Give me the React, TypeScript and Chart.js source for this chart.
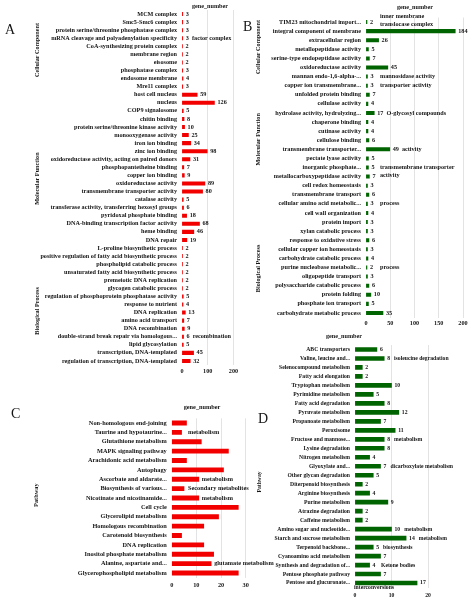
import React, { useEffect, useRef } from "react";
import { Chart, registerables } from "chart.js";

Chart.register(...registerables);

const SERIF = '"Liberation Serif", "Times New Roman", serif';
const INK = "#141414";
const RED = "#f20000";
const GREEN = "#006400";

// ---- panel A (GO, red) ----
const aLabels = [
  "MCM complex", "Smc5-Smc6 complex", "protein serine/threonine phosphatase complex",
  "mRNA cleavage and polyadenylation specificity", "CoA-synthesizing protein complex",
  "membrane region", "eisosome", "phosphatase complex", "endosome membrane", "Mre11 complex",
  "host cell nucleus", "nucleus", "COP9 signalosome", "chitin binding",
  "protein serine/threonine kinase activity", "monooxygenase activity", "iron ion binding",
  "zinc ion binding", "oxidoreductase activity, acting on paired donors",
  "phosphopantetheine binding", "copper ion binding", "oxidoreductase activity",
  "transmembrane transporter activity", "catalase activity",
  "transferase activity, transferring hexosyl groups", "pyridoxal phosphate binding",
  "DNA-binding transcription factor activity", "heme binding", "DNA repair",
  "L-proline biosynthetic process", "positive regulation of fatty acid biosynthetic process",
  "phospholipid catabolic process", "unsaturated fatty acid biosynthetic process",
  "premeiotic DNA replication", "glycogen catabolic process",
  "regulation of phosphoprotein phosphatase activity", "response to nutrient",
  "DNA replication", "amino acid transport", "DNA recombination",
  "double-strand break repair via homologous...", "lipid glycosylation",
  "transcription, DNA-templated", "regulation of transcription, DNA-templated",
];
const aValues = [
  3, 3, 3, 3, 2, 2, 2, 3, 4, 3, 59, 126,
  5, 8, 10, 25, 34, 98, 31, 7, 9, 89, 80, 5, 6, 18, 68, 46, 19,
  2, 2, 2, 2, 2, 2, 5, 4, 13, 7, 9, 6, 5, 45, 32,
];
const aTails: Tail[] = [
  { row: "mRNA cleavage and polyadenylation specificity", lines: ["factor complex"] },
  { row: "double-strand break repair via homologous...", lines: ["recombination"] },
];

// ---- panel B (GO, green) ----
const bLabels = [
  "TIM23 mitochondrial import...", "integral component of membrane", "extracellular region",
  "metallopeptidase activity", "serine-type endopeptidase activity", "oxidoreductase activity",
  "mannan endo-1,6-alpha-...", "copper ion transmembrane...", "unfolded protein binding",
  "cellulase activity", "hydrolase activity, hydrolyzing...", "chaperone binding",
  "cutinase activity", "cellulose binding", "transmembrane transporter...",
  "pectate lyase activity", "inorganic phosphate...", "metallocarboxypeptidase activity",
  "cell redox homeostasis", "transmembrane transport", "cellular amino acid metabolic...",
  "cell wall organization", "protein import", "xylan catabolic process",
  "response to oxidative stress", "cellular copper ion homeostasis",
  "carbohydrate catabolic process", "purine nucleobase metabolic...", "oligopeptide transport",
  "polysaccharide catabolic process", "protein folding", "phosphate ion transport",
  "carbohydrate metabolic process",
];
const bValues = [
  2, 184, 26, 5, 7, 45, 3, 3, 7, 4, 17, 4, 4, 6, 49, 5, 5, 7,
  3, 6, 3, 4, 3, 3, 6, 3, 4, 2, 3, 6, 10, 5, 35,
];
const bTails: Tail[] = [
  { row: "TIM23 mitochondrial import...", lines: ["inner membrane", "translocase complex"], shift: -0.75 },
  { row: "mannan endo-1,6-alpha-...", lines: ["mannosidase activity"] },
  { row: "copper ion transmembrane...", lines: ["transporter activity"] },
  { row: "hydrolase activity, hydrolyzing...", lines: ["O-glycosyl compounds"] },
  { row: "transmembrane transporter...", lines: ["activity"] },
  { row: "inorganic phosphate...", lines: ["transmembrane transporter", "activity"] },
  { row: "cellular amino acid metabolic...", lines: ["process"] },
  { row: "purine nucleobase metabolic...", lines: ["process"] },
];

// ---- panel C (KEGG, red) ----
const cLabels = [
  "Non-homologous end-joining", "Taurine and hypotaurine...", "Glutathione metabolism",
  "MAPK signaling pathway", "Arachidonic acid metabolism", "Autophagy",
  "Ascorbate and aldarate...", "Biosynthesis of various...", "Nicotinate and nicotinamide...",
  "Cell cycle", "Glycerolipid metabolism", "Homologous recombination",
  "Carotenoid biosynthesis", "DNA replication", "Inositol phosphate metabolism",
  "Alanine, aspartate and...", "Glycerophospholipid metabolism",
];
const cValues = [6, 4, 12, 23, 6, 21, 11, 5, 11, 27, 19, 13, 4, 13, 17, 16, 27];
const cTails: Tail[] = [
  { row: "Taurine and hypotaurine...", lines: ["metabolism"] },
  { row: "Ascorbate and aldarate...", lines: ["metabolism"] },
  { row: "Biosynthesis of various...", lines: ["Secondary metabolites"] },
  { row: "Nicotinate and nicotinamide...", lines: ["metabolism"] },
  { row: "Alanine, aspartate and...", lines: ["glutamate metabolism"] },
];

// ---- panel D (KEGG, green) ----
const dLabels = [
  "ABC transporters", "Valine, leucine and...", "Selenocompound metabolism",
  "Fatty acid elongation", "Tryptophan metabolism", "Pyrimidine metabolism",
  "Fatty acid degradation", "Pyruvate metabolism", "Propanoate metabolism", "Peroxisome",
  "Fructose and mannose...", "Lysine degradation", "Nitrogen metabolism", "Glyoxylate and...",
  "Other glycan degradation", "Diterpenoid biosynthesis", "Arginine biosynthesis",
  "Purine metabolism", "Atrazine degradation", "Caffeine metabolism",
  "Amino sugar and nucleotide...", "Starch and sucrose metabolism", "Terpenoid backbone...",
  "Cyanoamino acid metabolism", "Synthesis and degradation of...",
  "Pentose phosphate pathway", "Pentose and glucuronate...",
];
const dValues = [6, 8, 2, 2, 10, 5, 8, 12, 7, 11, 8, 8, 4, 7, 5, 2, 4, 9, 2, 2, 10, 14, 5, 7, 4, 7, 17];
const dTails: Tail[] = [
  { row: "Valine, leucine and...", lines: ["isoleucine degradation"] },
  { row: "Fructose and mannose...", lines: ["metabolism"] },
  { row: "Glyoxylate and...", lines: ["dicarboxylate metabolism"] },
  { row: "Amino sugar and nucleotide...", lines: ["metabolism"] },
  { row: "Starch and sucrose metabolism", lines: ["metabolism"] },
  { row: "Terpenoid backbone...", lines: ["biosynthesis"] },
  { row: "Synthesis and degradation of...", lines: ["Ketone bodies"] },
  { row: "Pentose and glucuronate...", lines: ["interconversions"], below: true },
];

type Tail = { row: string; lines: string[]; shift?: number; below?: boolean };

type Panel = {
  labels: string[];
  values: number[];
  tails: Tail[];
  color: string;
  max: number;
  step: number;
  area: { left: number; right: number; top: number; bottom: number };
  padLeft: number;
  bar: number;
  font: number;
  tickPad: number;
  showValues: boolean;
  tailMinX: number;
  tailGap: number;
  letter: { text: string; x: number; y: number };
  titles: { x: number; y: number }[];
  groups: { text: string; row: number; x: number }[];
};

const W = 474;
const H = 602;
const AXIS_H = 12;

const panels: Panel[] = [
  {
    labels: aLabels, values: aValues, tails: aTails, color: RED, max: 200, step: 100,
    area: { left: 182, right: 233.5, top: 10, bottom: 365 }, padLeft: 0,
    bar: 3.4, font: 6.2, tickPad: 3, showValues: true, tailMinX: 192, tailGap: 3,
    letter: { text: "A", x: 5, y: 30 },
    titles: [{ x: 210, y: 6 }],
    groups: [
      { text: "Cellular Component", row: 4.46, x: 37 },
      { text: "Molecular Function", row: 20.4, x: 37 },
      { text: "Biological Process", row: 36.8, x: 37 },
    ],
  },
  {
    labels: bLabels, values: bValues, tails: bTails, color: GREEN, max: 200, step: 50,
    area: { left: 366, right: 463, top: 17.5, bottom: 317.5 }, padLeft: 237,
    bar: 3.4, font: 6.2, tickPad: 2.5, showValues: true, tailMinX: 380, tailGap: 3,
    letter: { text: "B", x: 243, y: 27 },
    titles: [{ x: 415, y: 7 }, { x: 344, y: 336 }],
    groups: [
      { text: "Cellular Component", row: 2.75, x: 258 },
      { text: "Molecular Function", row: 12.9, x: 258 },
      { text: "Biological Process", row: 27.1, x: 258 },
    ],
  },
  {
    labels: cLabels, values: cValues, tails: cTails, color: RED, max: 30, step: 10,
    area: { left: 171.7, right: 245.7, top: 418.3, bottom: 577.7 }, padLeft: 0,
    bar: 4.3, font: 6.3, tickPad: 4.3, showValues: false, tailMinX: 188, tailGap: 3,
    letter: { text: "C", x: 11, y: 414 },
    titles: [{ x: 202, y: 407 }],
    groups: [{ text: "Pathway", row: 7.7, x: 36 }],
  },
  {
    labels: dLabels, values: dValues, tails: dTails, color: GREEN, max: 20, step: 10,
    area: { left: 355, right: 428, top: 345, bottom: 587.5 }, padLeft: 237,
    bar: 4, font: 5.7, tickPad: 5, showValues: true, tailMinX: 381, tailGap: 4,
    letter: { text: "D", x: 258, y: 419 },
    titles: [],
    groups: [{ text: "Pathway", row: 14.75, x: 260 }],
  },
];

// value labels, label tails, titles, group names and panel letters
function decor(p: Panel) {
  return {
    id: "decor",
    afterDatasetsDraw(chart: any) {
      const ctx: CanvasRenderingContext2D = chart.ctx;
      const meta = chart.getDatasetMeta(0);
      const yScale = chart.scales.y;
      const lineH = 8;
      ctx.save();
      ctx.fillStyle = INK;
      ctx.font = `bold ${p.font}px ${SERIF}`;
      ctx.textBaseline = "middle";
      ctx.textAlign = "left";

      const ends: number[] = [];
      meta.data.forEach((bar: any, i: number) => {
        let end = bar.x + p.tailGap;
        if (p.showValues) {
          const txt = String(p.values[i]);
          ctx.fillText(txt, bar.x + 3, bar.y);
          end = bar.x + 3 + ctx.measureText(txt).width + p.tailGap;
        }
        ends[i] = end;
      });

      p.tails.forEach((t) => {
        const i = p.labels.indexOf(t.row);
        const bar = meta.data[i];
        if (!bar) return;
        if (t.below) {
          t.lines.forEach((s, k) => ctx.fillText(s, chart.chartArea.left - 1, bar.y + 4.5 + k * lineH));
        } else {
          const x = Math.max(p.tailMinX, ends[i]);
          t.lines.forEach((s, k) => ctx.fillText(s, x, bar.y + (k + (t.shift || 0)) * lineH));
        }
      });

      ctx.textAlign = "center";
      p.titles.forEach((t) => ctx.fillText("gene_number", t.x, t.y));

      p.groups.forEach((g) => {
        const y = yScale.getPixelForValue(g.row);
        ctx.save();
        ctx.translate(g.x, y);
        ctx.rotate(-Math.PI / 2);
        ctx.fillText(g.text, 0, 0);
        ctx.restore();
      });

      ctx.font = `14px ${SERIF}`;
      ctx.textAlign = "left";
      ctx.fillText(p.letter.text, p.letter.x, p.letter.y);
      ctx.restore();
    },
  };
}

const BarPanel: React.FC<{ spec: Panel }> = ({ spec }) => {
  const chartRef = useRef<HTMLCanvasElement>(null);
  const chartInstance = useRef<Chart>();

  useEffect(() => {
    if (!chartRef.current) return;
    const ctx = chartRef.current.getContext("2d");
    if (!ctx) return;
    if (chartInstance.current) chartInstance.current.destroy();

    const a = spec.area;
    const tickFont = { family: SERIF, size: spec.font, weight: "bold" as const };
    chartInstance.current = new Chart(ctx, {
      type: "bar",
      data: {
        labels: spec.labels,
        datasets: [
          {
            data: spec.values,
            backgroundColor: spec.color,
            borderWidth: 0,
            barThickness: spec.bar,
          },
        ],
      },
      options: {
        indexAxis: "y",
        responsive: false,
        animation: false,
        layout: {
          padding: {
            left: spec.padLeft,
            right: W - a.right,
            top: a.top,
            bottom: H - a.bottom - AXIS_H,
          },
        },
        plugins: { legend: { display: false }, tooltip: { enabled: false } },
        scales: {
          x: {
            min: 0,
            max: spec.max,
            ticks: { stepSize: spec.step, font: tickFont, color: INK, padding: spec.tickPad },
            grid: {
              color: (c: any) => (c.tick && c.tick.value === 0 ? "rgba(0,0,0,0)" : "#dcdcdc"),
              lineWidth: 0.8,
              drawTicks: false,
            },
            border: { display: false },
            afterFit: (s: any) => {
              s.height = AXIS_H;
            },
          },
          y: {
            ticks: { autoSkip: false, font: tickFont, color: INK, padding: 5 },
            grid: { display: false, drawTicks: false },
            border: { display: false },
            afterFit: (s: any) => {
              s.width = a.left - spec.padLeft;
            },
          },
        },
      },
      plugins: [decor(spec)],
    });

    return () => {
      if (chartInstance.current) {
        chartInstance.current.destroy();
        chartInstance.current = undefined;
      }
    };
  }, [spec]);

  return (
    <canvas
      ref={chartRef}
      width={W}
      height={H}
      style={{ position: "absolute", left: 0, top: 0, width: W, height: H }}
    />
  );
};

export default function App() {
  return (
    <div style={{ position: "absolute", left: 0, top: 0, width: W, height: H, background: "#fff" }}>
      {panels.map((p) => (
        <BarPanel key={p.letter.text} spec={p} />
      ))}
    </div>
  );
}
